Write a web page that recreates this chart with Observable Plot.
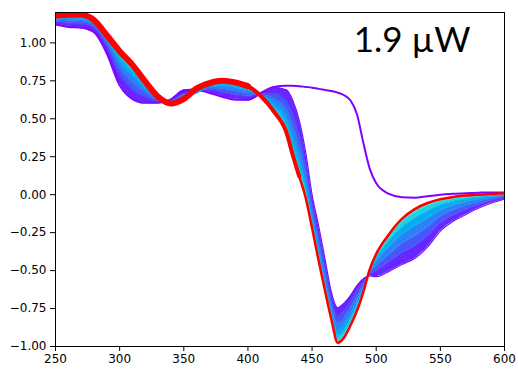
<!DOCTYPE html>
<html>
<head>
<meta charset="utf-8">
<script src="https://cdn.jsdelivr.net/npm/d3@7"></script>
<script src="https://cdn.jsdelivr.net/npm/@observablehq/plot@0.6"></script>
<style>
  html, body { margin: 0; padding: 0; background: #fff; }
  #chart { width: 518px; height: 372px; }
</style>
</head>
<body>
<div id="chart"></div>
<script>
// ---- data ----
const wavelength = [250,260,270,280,290,300,310,320,330,340,350,360,370,380,390,400,410,420,430,435,440,445,450,455,460,465,470,475,480,485,490,495,500,510,520,530,540,550,560,570,580,590,600];

const curve0 = [1.12,1.105,1.10,1.07,0.93,0.72,0.63,0.605,0.605,0.625,0.68,0.69,0.67,0.645,0.625,0.625,0.67,0.71,0.717,0.717,0.715,0.71,0.705,0.697,0.69,0.683,0.672,0.655,0.62,0.53,0.34,0.17,0.075,0.005,-0.017,-0.02,-0.01,0.0,0.006,0.01,0.013,0.015,0.015];
const curve1 = [1.125,1.11,1.105,1.08,0.95,0.74,0.635,0.607,0.607,0.63,0.69,0.695,0.675,0.65,0.63,0.625,0.665,0.705,0.69,0.62,0.49,0.28,0.0,-0.20,-0.42,-0.64,-0.745,-0.715,-0.665,-0.60,-0.555,-0.535,-0.54,-0.505,-0.46,-0.42,-0.345,-0.24,-0.175,-0.13,-0.088,-0.055,-0.028];
const curve2 = [1.139,1.129,1.125,1.098,0.975,0.791,0.690,0.642,0.617,0.623,0.67,0.685,0.69,0.675,0.658,0.648,0.661,0.666,0.62,0.53,0.397,0.205,-0.055,-0.258,-0.473,-0.685,-0.803,-0.771,-0.714,-0.641,-0.576,-0.524,-0.502,-0.444,-0.385,-0.339,-0.273,-0.188,-0.135,-0.099,-0.066,-0.04,-0.019];
const curve3 = [1.150,1.144,1.141,1.112,0.995,0.832,0.734,0.669,0.624,0.617,0.655,0.675,0.70,0.695,0.68,0.666,0.658,0.635,0.564,0.458,0.323,0.145,-0.099,-0.304,-0.515,-0.721,-0.849,-0.816,-0.753,-0.674,-0.593,-0.515,-0.472,-0.395,-0.325,-0.274,-0.215,-0.146,-0.103,-0.074,-0.048,-0.028,-0.011];
const curve4 = [1.161,1.159,1.157,1.126,1.015,0.873,0.778,0.697,0.632,0.611,0.645,0.67,0.714,0.715,0.702,0.684,0.655,0.604,0.508,0.386,0.25,0.085,-0.143,-0.35,-0.557,-0.757,-0.895,-0.861,-0.792,-0.707,-0.61,-0.506,-0.442,-0.346,-0.265,-0.209,-0.157,-0.104,-0.071,-0.049,-0.031,-0.016,-0.003];
const curve5 = [1.170,1.172,1.171,1.137,1.032,0.908,0.815,0.720,0.638,0.605,0.638,0.675,0.724,0.732,0.72,0.699,0.652,0.578,0.46,0.325,0.187,0.034,-0.18,-0.389,-0.592,-0.788,-0.934,-0.90,-0.825,-0.735,-0.625,-0.498,-0.416,-0.304,-0.214,-0.154,-0.107,-0.068,-0.044,-0.028,-0.016,-0.006,0.003];
const curve6 = [1.176,1.180,1.179,1.145,1.043,0.931,0.840,0.735,0.642,0.602,0.633,0.685,0.731,0.743,0.732,0.709,0.651,0.561,0.43,0.285,0.146,0.001,-0.205,-0.414,-0.615,-0.807,-0.959,-0.924,-0.846,-0.753,-0.634,-0.493,-0.40,-0.277,-0.181,-0.118,-0.075,-0.045,-0.026,-0.015,-0.006,0.001,0.007];
const curveFinal = [1.18,1.185,1.185,1.15,1.05,0.945,0.855,0.745,0.645,0.60,0.63,0.70,0.735,0.75,0.74,0.715,0.65,0.55,0.41,0.26,0.12,-0.02,-0.22,-0.43,-0.63,-0.82,-0.975,-0.94,-0.86,-0.765,-0.64,-0.49,-0.39,-0.26,-0.16,-0.095,-0.055,-0.03,-0.015,-0.006,0.0,0.005,0.01];

const annotation = "1.9 µW";
const xTickValues = [250,300,350,400,450,500,550,600];
const yTickValues = [-1.00,-0.75,-0.50,-0.25,0.00,0.25,0.50,0.75,1.00];

// ---- styling ----
// position of each curve along matplotlib's "rainbow" colormap
const bandCurves = [curve1, curve2, curve3, curve4, curve5, curve6, curveFinal];
const bandPos = [0.02, 0.08, 0.14, 0.20, 0.27, 0.34, 1.0];
function rainbow(t) {
  const r = Math.min(1, Math.abs(2 * t - 0.5));
  const g = Math.sin(Math.PI * t);
  const b = Math.cos(Math.PI * t / 2);
  return d3.rgb(r * 255, g * 255, b * 255).formatHex();
}

const rows = (arr) => wavelength.map((x, i) => ({x, y: arr[i]}));

const marks = [];
// filled band between successive curves
for (let j = 0; j < bandCurves.length - 1; j++) {
  const a = bandCurves[j], b = bandCurves[j + 1];
  const t = Math.min(0.34, (bandPos[j] + bandPos[j + 1]) / 2);
  marks.push(Plot.areaY(wavelength.map((x, i) => ({x, y1: a[i], y2: b[i]})), {
    x: "x", y1: "y1", y2: "y2", fill: rainbow(t), curve: "monotone-x", clip: true
  }));
}
// first (outlier) curve
marks.push(Plot.line(rows(curve0), {x: "x", y: "y", stroke: rainbow(0), strokeWidth: 2, curve: "monotone-x", clip: true}));
// band curves as thin lines
for (let j = 0; j < bandCurves.length - 1; j++) {
  marks.push(Plot.line(rows(bandCurves[j]), {x: "x", y: "y", stroke: rainbow(bandPos[j]), strokeWidth: 1.2, curve: "monotone-x", clip: true}));
}
// final curve (red), thicker where many late curves overlap
marks.push(Plot.line(rows(curveFinal), {filter: d => d.x <= 400, x: "x", y: "y", stroke: rainbow(1), strokeWidth: 6, curve: "monotone-x", clip: true, strokeLinecap: "round"}));
marks.push(Plot.line(rows(curveFinal), {filter: d => d.x >= 390 && d.x <= 440, x: "x", y: "y", stroke: rainbow(1), strokeWidth: 4, curve: "monotone-x", clip: true, strokeLinecap: "round"}));
marks.push(Plot.line(rows(curveFinal), {x: "x", y: "y", stroke: rainbow(1), strokeWidth: 2.5, curve: "monotone-x", clip: true}));
marks.push(Plot.frame({stroke: "#000", strokeWidth: 1}));
marks.push(Plot.text([annotation], {
  frameAnchor: "top-right", text: d => d, dx: -34, dy: 15, lineAnchor: "top",
  fontSize: 35, fontFamily: "Lato", fill: "#000"
}));

const chart = Plot.plot({
  width: 518,
  height: 372,
  marginLeft: 55,
  marginRight: 14,
  marginTop: 12,
  marginBottom: 26,
  style: {fontFamily: "DejaVu Sans", fontSize: "12px", color: "#000", background: "#fff"},
  x: {domain: [250, 600], ticks: xTickValues, tickSize: 5, tickPadding: 3, tickFormat: d3.format("d"), label: null},
  y: {domain: [-1, 1.2], ticks: yTickValues, tickSize: 5, tickPadding: 4, tickFormat: d3.format(".2f"), label: null},
  marks
});
document.getElementById("chart").appendChild(chart);
</script>
</body>
</html>
